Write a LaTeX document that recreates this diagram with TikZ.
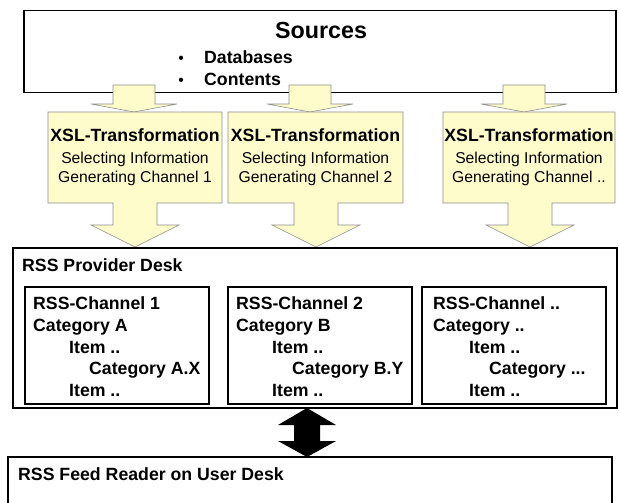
\documentclass[tikz,border=0pt]{standalone}
\usepackage{fontspec}
\setmainfont{Liberation Sans}
\usetikzlibrary{calc}

\tikzset{
  deskbox/.style={draw=black, line width=1.8pt, minimum width=#1, inner sep=0pt, outer sep=0pt},
  xslbox/.style={draw=black!45, fill=yellow!20, line width=0.6pt, line join=miter},
  bigtxt/.style={font=\fontsize{17.7}{20}\selectfont\bfseries, inner sep=0pt},
  smalltxt/.style={font=\fontsize{15.7}{19}\selectfont, inner sep=0pt},
}

\begin{document}
\begin{tikzpicture}[x=1pt, y=-1pt]

\useasboundingbox (0,0) rectangle (619,503);
\clip (0,0) rectangle (619,503);

% arrow from the sources into a transformation box
\newcommand\TopArrow[1]{%
  \draw[xslbox] (#1-21,85) -- (#1-21,104) -- (#1-43,104) -- (#1,112)
     -- (#1+43,104) -- (#1+21,104) -- (#1+21,85) -- cycle;}

% transformation box with its arrow down to the provider desk
\newcommand\XslBox[3]{%
  \draw[xslbox] (#1,112) -- (#2,112) -- (#2,203) -- (#3+22,203) -- (#3+22,225)
     -- (#3+44,225) -- (#3,247) -- (#3-44,225) -- (#3-22,225) -- (#3-22,203)
     -- (#1,203) -- cycle;}

\newcommand\XslText[3]{%
  \node[bigtxt, anchor=base] (xsl#2) at (#1,142) {XSL-Transformation};
  \node[smalltxt, anchor=base] (sel#2) at (#1,163) {Selecting Information};
  \node[smalltxt, anchor=base] (gen#2) at (#1,182) {Generating Channel #3};}

% one channel inside the provider desk
\newcommand\Channel[6]{%
  \node[deskbox=184pt, minimum height=117pt, line width=1.5pt] (#3) at ({(#1+#2)/2},345.5) {};
  \node[bigtxt, anchor=base west] (#3-a) at (#1+8,309) {#4};
  \node[bigtxt, anchor=base west] (#3-b) at (#1+8,331) {#5};
  \node[bigtxt, anchor=base west] (#3-c) at (#1+44,353) {Item ..};
  \node[bigtxt, anchor=base west] (#3-d) at (#1+64,374) {#6};
  \node[bigtxt, anchor=base west] (#3-e) at (#1+44,396) {Item ..};}

%% sources
\node[deskbox=592pt, minimum height=82pt] (src) at (320,51.5) {};
\node[font=\fontsize{23.3}{26}\selectfont\bfseries, inner sep=0pt, anchor=base] (srctitle) at (321,39) {Sources};
\node[smalltxt, anchor=base] (dot1) at (181,64) {•};
\node[smalltxt, anchor=base] (dot2) at (181,85) {•};
\node[bigtxt, anchor=base west] (db) at (204,64) {Databases};
\node[bigtxt, anchor=base west] (cont) at (204,85) {Contents};

%% transformations
\TopArrow{134}
\TopArrow{310}
\TopArrow{524}

\XslBox{48}{222}{135}
\XslBox{228}{403}{316}
\XslBox{443}{615}{530}

\XslText{135}{1}{1}
\XslText{315.5}{2}{2}
\XslText{529}{3}{..}

%% provider desk
\node[deskbox=604pt, minimum height=160pt] (prov) at (315,328) {};
\node[bigtxt, anchor=base west] (provlabel) at (22,271) {RSS Provider Desk};

\Channel{25}{209}{ch1}{RSS-Channel 1}{Category A}{Category A.X}
\Channel{228}{412}{ch2}{RSS-Channel 2}{Category B}{Category B.Y}
\Channel{425}{603}{ch3}{RSS-Channel ..}{Category ..}{Category ...}

%% feed reader
\node[deskbox=604pt, minimum height=70pt, line width=1.5pt] (feed) at (310,492) {};
\node[bigtxt, anchor=base west] (feedlabel) at (18,480) {RSS Feed Reader on User Desk};

%% two way arrow between the desks
\coordinate (dtop) at ($(prov.south)+(-8,0)$);
\coordinate (dbot) at (dtop |- feed.north);
\fill (dtop) -- ++(29,17) -- ++(-16,0) -- ($(dbot)+(13,-16)$) -- ++(16,0) -- (dbot)
  -- ++(-29,-16) -- ++(16,0) -- ($(dtop)+(-13,17)$) -- ++(-16,0) -- cycle;

\end{tikzpicture}
\end{document}
